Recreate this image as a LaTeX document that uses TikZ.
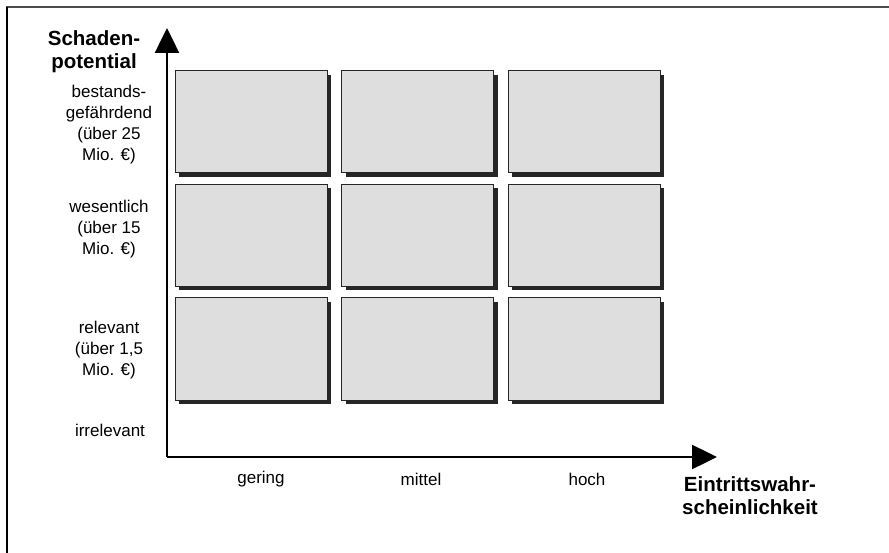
\documentclass[tikz,border=0pt]{standalone}
\usepackage{fontspec}
\setmainfont{Liberation Sans}
\usepackage{tikz}
\usetikzlibrary{arrows.meta, shadows}

\begin{document}
\begin{tikzpicture}[x=1pt, y=-1pt,
  cell/.style={draw=black!85, line width=1pt, fill=black!13,
    minimum width=152pt, minimum height=102pt, inner sep=0pt, outer sep=0pt,
    anchor=north west,
    drop shadow={shadow xshift=4pt, shadow yshift=-4pt, fill=black!85, opacity=1}},
  lbl/.style={align=center, font=\fontsize{17}{21}\selectfont},
  ttl/.style={align=center, font=\fontsize{20.5}{23}\selectfont\bfseries},
  axis/.style={line width=2.5pt, -{Triangle[length=25pt, width=24pt]}}]
\useasboundingbox (0,0) rectangle (889,553);
% frame
\draw[line width=2pt, black!70] (6,7) -- (889,7);
\draw[line width=2pt] (7,7) -- (7,553);
% matrix cells
\foreach \r in {0,1,2}
  \foreach \c in {0,1,2}
    \node[cell] (cell-\r-\c) at ({175+166.5*\c},{71+113.5*\r}) {};
% axes
\coordinate (origin) at (167,457);
\coordinate (ytip) at (167,28);
\coordinate (xtip) at (717,457);
\draw[axis] (origin) -- (ytip);
\draw[axis] (origin) -- (xtip);
% labels
\node[ttl] (yname) at (94,52) {Schaden-\\potential};
\node[lbl] (high) at (109,125) {bestands-\\gefährdend\\(über 25\\Mio. €)};
\node[lbl] (mid) at (109,229) {wesentlich\\(über 15\\Mio. €)};
\node[lbl] (low) at (109,350) {relevant\\(über 1,5\\Mio. €)};
\node[lbl] (none) at (110,430) {irrelevant};
\node[lbl] (gering) at (261,479) {gering};
\node[lbl] (mittel) at (421,479) {mittel};
\node[lbl] (hoch) at (587,479) {hoch};
\node[ttl] (xname) at (750,496) {Eintrittswahr-\\scheinlichkeit};
\end{tikzpicture}
\end{document}
